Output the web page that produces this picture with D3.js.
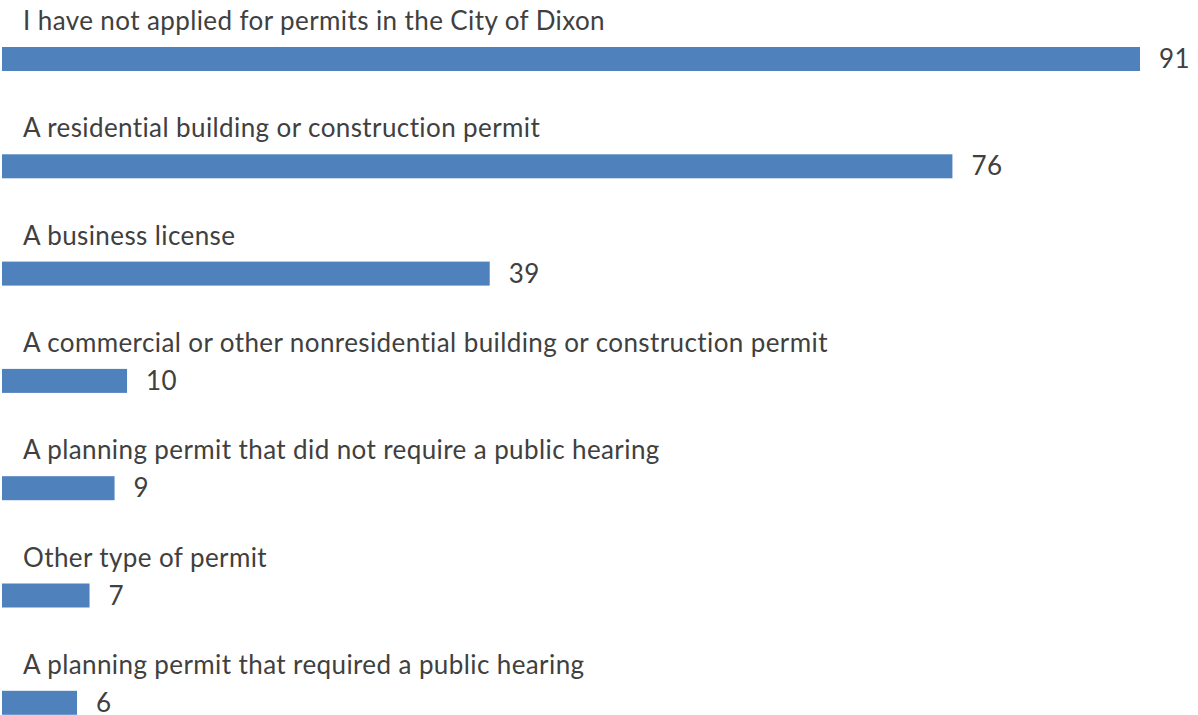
<!DOCTYPE html>
<html>
<head>
<meta charset="utf-8">
<script src="https://cdn.jsdelivr.net/npm/d3@7"></script>
<style>
  body { margin: 0; background: #fff; }
  text { font-family: Lato, "Open Sans", sans-serif; fill: #404040; font-variant-ligatures: none; }
</style>
</head>
<body>
<div id="chart"></div>
<script>
var categories = [
  "I have not applied for permits in the City of Dixon",
  "A residential building or construction permit",
  "A business license",
  "A commercial or other nonresidential building or construction permit",
  "A planning permit that did not require a public hearing",
  "Other type of permit",
  "A planning permit that required a public hearing"
];
var counts = [91, 76, 39, 10, 9, 7, 6];

var width = 1198, height = 715;
var margin = {top: 47, left: 2};

var svg = d3.select("#chart")
  .append("svg")
    .attr("width", width)
    .attr("height", height)
  .append("g")
    .attr("transform", "translate(" + margin.left + "," + margin.top + ")");

// 12.5 px per response
var x = d3.scaleLinear()
  .domain([0, 91])
  .range([0, 1138]);

var y = d3.scaleBand()
  .domain(categories)
  .range([0, 107.3 * 7])
  .paddingInner(0)
  .paddingOuter(0);

var barH = 24;

var rows = svg.selectAll(".row")
  .data(categories)
  .enter()
  .append("g")
    .attr("class", "row")
    .attr("transform", function(d) { return "translate(0," + y(d) + ")"; });

rows.append("rect")
  .attr("x", 0)
  .attr("y", 0)
  .attr("width", function(d, i) { return x(counts[i]); })
  .attr("height", barH)
  .style("fill", "#4f81bd");

// category label above the bar
rows.append("text")
  .attr("x", 21)
  .attr("y", -17)
  .style("font-size", "26px")
  .style("letter-spacing", "0.4px")
  .text(function(d) { return d; });

// value to the right of the bar
rows.append("text")
  .attr("x", function(d, i) { return x(counts[i]) + 19; })
  .attr("y", barH / 2)
  .attr("dy", "0.35em")
  .style("font-size", "26px")
  .style("letter-spacing", "0.4px")
  .text(function(d, i) { return counts[i]; });
</script>
</body>
</html>
